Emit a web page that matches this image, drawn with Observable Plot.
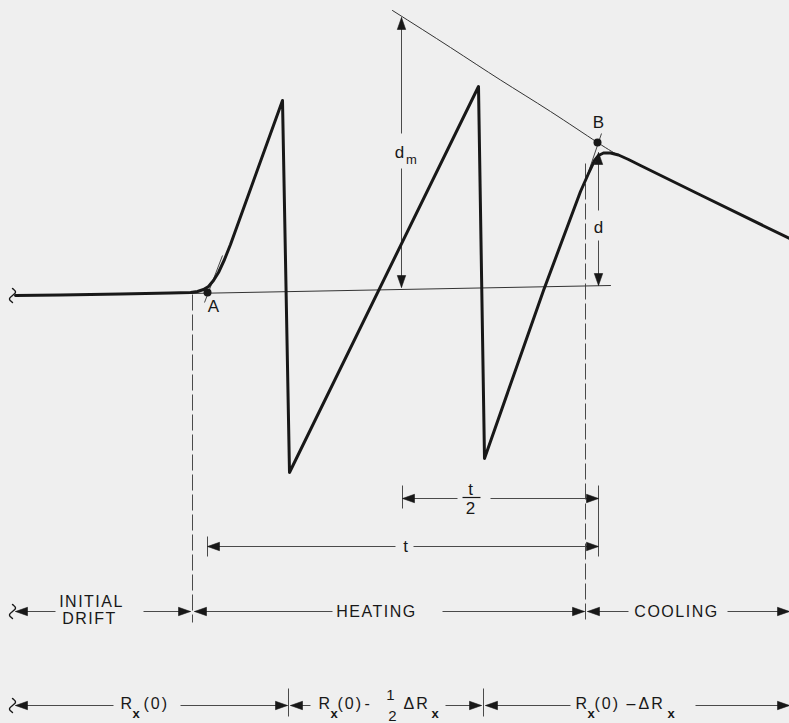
<!DOCTYPE html>
<html><head><meta charset="utf-8">
<script src="https://cdn.jsdelivr.net/npm/d3@7"></script>
<script src="https://cdn.jsdelivr.net/npm/@observablehq/plot@0.6"></script>
<style>
html,body{margin:0;padding:0;background:#efefef;}
#chart svg{display:block;}
</style></head><body><div id="chart"></div>
<script>
// ---- Recorder trace: time (across) vs. deflection (down the sheet) ----
const traceT = [15, 60, 120, 170, 190, 197, 203, 208, 213, 218, 224, 230, 282, 289, 478, 484, 543, 580, 588, 594, 598, 603, 610, 618, 628, 640, 700, 789];
const traceD = [295, 294.5, 293.5, 292.5, 292, 291, 289, 286, 280, 272, 259, 244, 100, 472, 86, 458, 290, 191, 173, 160, 155, 152.5, 152.5, 154.5, 159, 165, 194.5, 238];

// extrapolated cooling curve (envelope through B)
const envT = [392, 450, 500, 550, 597, 620];
const envD = [10, 47, 79.5, 111, 142, 156];

// extrapolated initial drift line
const driftT = [190, 610];
const driftD = [293, 285];

// tangents at A and B
const tangents = [
  {t1: 204, d1: 302, t2: 222, d2: 255},
  {t1: 583, d1: 186, t2: 601, d2: 133}
];

// marked points
const pointNames = ["A", "B"];
const pointT = [207, 597];
const pointD = [292, 142];

// dashed time markers (start of heating, end of heating)
const markerT = [192, 585];
const markerTop = [294, 163];
const markerBottom = [622, 622];

// horizontal dimension lines: level, ends, and gap for the label
const hDims = [
  {d: 611, a: 15,  b: 190, g1: 55,  g2: 143},
  {d: 611, a: 194, b: 584, g1: 332, g2: 442},
  {d: 611, a: 587, b: 789, g1: 628, g2: 727},
  {d: 705, a: 15,  b: 287, g1: 113, g2: 180},
  {d: 705, a: 290, b: 481, g1: 310, g2: 445},
  {d: 705, a: 485, b: 789, g1: 570, g2: 695},
  {d: 498, a: 402, b: 598, g1: 457, g2: 490},
  {d: 546, a: 207, b: 598, g1: 395, g2: 413}
];
// vertical dimension lines (d_m and d)
const vDims = [
  {t: 401, a: 17,  b: 287, g1: 133, g2: 168},
  {t: 598, a: 152, b: 285, g1: 210, g2: 240}
];
// extension ticks
const ticks = [
  {t: 288, d1: 688, d2: 716},
  {t: 483, d1: 688, d2: 716},
  {t: 402, d1: 485, d2: 508},
  {t: 598, d1: 485, d2: 556},
  {t: 207, d1: 536, d2: 556}
];
// break marks at the left edge
const breakT = [12, 12, 12];
const breakD = [295, 611, 705];

// ---- texts ----
const capsText = ["INITIAL", "DRIFT", "HEATING", "COOLING"];
const capsT = [91, 89, 376, 676];
const capsD = [601.5, 618.5, 611, 611];

const mathText = ["R", "(0)", "R", "(0)", "-", "ΔR", "R", "(0)", "–", "ΔR"];
const mathT = [120, 143, 318, 337, 364, 403, 575, 594, 626, 638];
const subText = ["x", "x", "x", "x", "x"];
const subT = [132, 330, 431, 587, 667];

const fracText = ["1", "2"];
const fracT = [390, 392];
const fracD = [695, 716];

const symText = ["d", "d", "t", "t", "2"];
const symT = [399, 598, 405, 470, 470];
const symD = [152, 227, 546, 489, 508];
const symSubText = ["m"];
const symSubT = [411];
const symSubD = [159];
const fracBar = [{t1: 462, t2: 480, d: 497}];

// ---- derived tables ----
const trace = traceT.map((t, i) => ({t, d: traceD[i]}));
const env = envT.map((t, i) => ({t, d: envD[i]}));
const drift = driftT.map((t, i) => ({t, d: driftD[i]}));
const points = pointNames.map((n, i) => ({n, t: pointT[i], d: pointD[i]}));
const markers = markerT.map((t, i) => ({t, d1: markerTop[i], d2: markerBottom[i]}));

const dimSegs = [];
const heads = [];
for (const h of hDims) {
  dimSegs.push({t1: h.a, d1: h.d, t2: h.g1, d2: h.d});
  dimSegs.push({t1: h.g2, d1: h.d, t2: h.b, d2: h.d});
  heads.push({t: h.a, d: h.d, rot: 180});
  heads.push({t: h.b, d: h.d, rot: 0});
}
for (const v of vDims) {
  dimSegs.push({t1: v.t, d1: v.a, t2: v.t, d2: v.g1});
  dimSegs.push({t1: v.t, d1: v.g2, t2: v.t, d2: v.b});
  heads.push({t: v.t, d: v.a, rot: -90});
  heads.push({t: v.t, d: v.b, rot: 90});
}
const squiggles = [];
breakT.forEach((t, k) => {
  for (let s = -1; s <= 1.0001; s += 0.1) {
    squiggles.push({k, t: t - 3 * Math.sin(Math.PI * s), d: breakD[k] + 7 * s});
  }
});
const arrowSymbol = {
  draw(ctx) {
    ctx.moveTo(0, 0);
    ctx.lineTo(-12, -4.2);
    ctx.lineTo(-12, 4.2);
    ctx.closePath();
  }
};
const mk = (txt, ts, ds) => txt.map((s, i) => ({s, t: ts[i], d: Array.isArray(ds) ? ds[i] : ds}));

const ink = "#181818";
const thin = "#333";
const dim = "#4a4a4a";
const font = "Liberation Sans, Arial, sans-serif";

const chart = Plot.plot({
  width: 789,
  height: 723,
  margin: 0,
  x: {domain: [0, 789], range: [0, 789], axis: null},
  y: {domain: [0, 723], range: [0, 723], axis: null},
  style: {background: "#efefef", fontFamily: font, color: ink},
  marks: [
    Plot.link(markers, {x1: "t", y1: "d1", x2: "t", y2: "d2", stroke: dim, strokeWidth: 1, strokeDasharray: "16,4"}),
    Plot.link(dimSegs, {x1: "t1", y1: "d1", x2: "t2", y2: "d2", stroke: dim, strokeWidth: 1}),
    Plot.link(ticks, {x1: "t", y1: "d1", x2: "t", y2: "d2", stroke: dim, strokeWidth: 1}),
    Plot.link(fracBar, {x1: "t1", y1: "d", x2: "t2", y2: "d", stroke: ink, strokeWidth: 1.2}),
    Plot.line(drift, {x: "t", y: "d", stroke: thin, strokeWidth: 1}),
    Plot.line(env, {x: "t", y: "d", stroke: thin, strokeWidth: 1, curve: "natural"}),
    Plot.link(tangents, {x1: "t1", y1: "d1", x2: "t2", y2: "d2", stroke: thin, strokeWidth: 0.9}),
    Plot.line(trace, {x: "t", y: "d", stroke: ink, strokeWidth: 3, strokeLinejoin: "round", strokeLinecap: "round"}),
    Plot.line(squiggles, {x: "t", y: "d", z: "k", stroke: ink, strokeWidth: 1.4, curve: "basis"}),
    Plot.dot(heads, {x: "t", y: "d", rotate: "rot", symbol: arrowSymbol, r: 1, fill: ink, stroke: ink, strokeWidth: 0.6}),
    Plot.dot(points, {x: "t", y: "d", r: 4, fill: ink, stroke: "none"}),
    Plot.text(points, {x: (p) => p.t + (p.n === "A" ? 6 : 1), y: (p) => p.d + (p.n === "A" ? 14 : -20), text: "n", fontSize: 17, fill: ink}),
    Plot.text(mk(capsText, capsT, capsD), {x: "t", y: "d", text: "s", fontSize: 16, fill: ink}),
    Plot.text(mk(mathText, mathT, 703), {x: "t", y: "d", text: "s", fontSize: 16, textAnchor: "start", fill: ink}),
    Plot.text(mk(subText, subT, 713), {x: "t", y: "d", text: "s", fontSize: 13, fontWeight: "bold", textAnchor: "start", fill: ink}),
    Plot.text(mk(fracText, fracT, fracD), {x: "t", y: "d", text: "s", fontSize: 15, fill: ink}),
    Plot.text(mk(symText, symT, symD), {x: "t", y: "d", text: "s", fontSize: 17, fill: ink}),
    Plot.text(mk(symSubText, symSubT, symSubD), {x: "t", y: "d", text: "s", fontSize: 13, fill: ink})
  ]
});
// letter-spaced lettering, as on the drafted original
const capsSet = new Set(capsText);
const spacedSet = new Set(["(0)", "ΔR"]);
d3.select(chart).selectAll("text").each(function () {
  const s = this.textContent;
  if (capsSet.has(s)) this.setAttribute("letter-spacing", "1.5");
  else if (spacedSet.has(s)) this.setAttribute("letter-spacing", "2");
});
document.getElementById("chart").appendChild(chart);
</script>
</body></html>
